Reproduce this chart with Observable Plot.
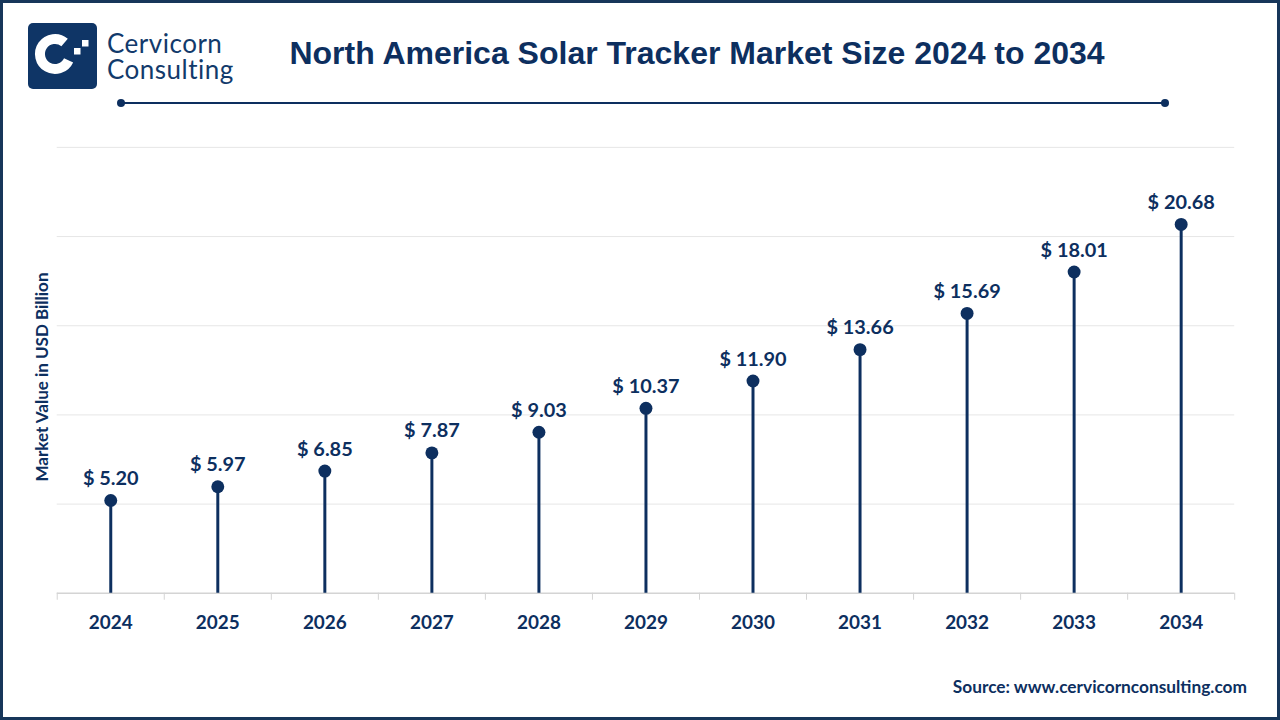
<!DOCTYPE html>
<html>
<head>
<meta charset="utf-8">
<script src="https://cdn.jsdelivr.net/npm/d3@7"></script>
<script src="https://cdn.jsdelivr.net/npm/@observablehq/plot@0.6"></script>
<style>
  html, body { margin: 0; padding: 0; background: #fff; }
  #frame { position: relative; width: 1280px; height: 720px; box-sizing: border-box; border: 3px solid #17365a; background: #fff; overflow: hidden; }
  #logo { position: absolute; left: 25px; top: 20px; }
  .brand { position: absolute; left: 104px; font-family: Lato, "Open Sans", sans-serif; font-size: 26px; letter-spacing: 0.5px; line-height: 22px; height: 22px; color: #123a6b; white-space: nowrap; }
  #brand1 { top: 29px; }
  #brand2 { top: 55px; }
  #title { position: absolute; left: 0; width: 1388px; top: 32px; text-align: center; font-family: "Liberation Sans", Arial, sans-serif; font-weight: bold; font-size: 32px; color: #0d2f5f; }
  #rule { position: absolute; left: 112px; top: 94px; }
  #chart { position: absolute; left: -3px; top: 117px; }
  #ylabel { position: absolute; left: 38px; top: 374px; transform: translate(-50%, -50%) rotate(-90deg); font-family: Lato, "Open Sans", sans-serif; font-weight: bold; font-size: 17px; color: #0d2f5f; white-space: nowrap; }
  #source { position: absolute; right: 30px; top: 673px; font-family: Lato, "Open Sans", sans-serif; font-weight: bold; font-size: 17.3px; color: #0d2f5f; }
</style>
</head>
<body>
<div id="frame">
  <svg id="logo" width="75" height="72" viewBox="0 0 75 72">
    <rect x="0" y="0" width="69" height="66" rx="5" fill="#0f3566"/>
    <path d="M 36.6 19.5 A 15 15 0 1 0 40.6 37.3" fill="none" stroke="#fff" stroke-width="10"/>
    <rect x="46" y="25" width="6.5" height="6.5" fill="#fff"/>
    <rect x="54" y="17" width="6.5" height="6.5" fill="#fff"/>
  </svg>
  <div class="brand" id="brand1">Cervicorn</div>
  <div class="brand" id="brand2">Consulting</div>
  <div id="title">North America Solar Tracker Market Size 2024 to 2034</div>
  <svg id="rule" width="1060" height="12">
    <line x1="6" y1="6" x2="1050" y2="6" stroke="#0d2f5f" stroke-width="2"/>
    <circle cx="6" cy="6" r="4" fill="#0d2f5f"/>
    <circle cx="1050" cy="6" r="4" fill="#0d2f5f"/>
  </svg>
  <div id="chart"></div>
  <div id="ylabel">Market Value in USD Billion</div>
  <div id="source">Source: www.cervicornconsulting.com</div>
</div>
<script>
const years = ["2024","2025","2026","2027","2028","2029","2030","2031","2032","2033","2034"];
const values = [5.20, 5.97, 6.85, 7.87, 9.03, 10.37, 11.90, 13.66, 15.69, 18.01, 20.68];
const gridTicks = [5, 10, 15, 20, 25];

const data = years.map((y, i) => ({year: y, value: values[i]}));
const navy = "#0d2f5f";
const W = 1283, mL = 57, mR = 43;
const bw = (W - mL - mR) / years.length;

const chart = Plot.plot({
  width: W,
  height: 540,
  marginLeft: mL,
  marginRight: mR,
  marginTop: 27,
  marginBottom: 65,
  style: {fontFamily: "Lato, 'Open Sans', sans-serif", background: "transparent", overflow: "visible"},
  x: {type: "band", domain: years, padding: 0, round: false, label: null},
  y: {domain: [0, 25], label: null},
  marks: [
    Plot.ruleY(gridTicks, {stroke: "#e6e6e6", strokeWidth: 1}),
    Plot.ruleY([0], {stroke: "#d4d4d4", strokeWidth: 1.5}),
    Plot.axisX({tickSize: 7, text: null, dx: -bw / 2, stroke: "#d4d4d4"}),
    Plot.axisX([years[years.length - 1]], {tickSize: 7, text: null, dx: bw / 2, stroke: "#d4d4d4"}),
    Plot.axisX({tickSize: 0, tickPadding: 22, fontSize: 19, fontWeight: "bold", fill: navy, label: null}),
    Plot.axisY({ticks: [], label: null}),
    Plot.ruleX(data, {x: "year", y1: 0, y2: "value", stroke: navy, strokeWidth: 3}),
    Plot.dot(data, {x: "year", y: "value", r: 6.5, fill: navy}),
    Plot.text(data, {x: "year", y: "value", text: d => "$ " + d.value.toFixed(2), dy: -22, fontSize: 20, fontWeight: "bold", fill: navy})
  ]
});
document.getElementById("chart").appendChild(chart);
</script>
</body>
</html>
